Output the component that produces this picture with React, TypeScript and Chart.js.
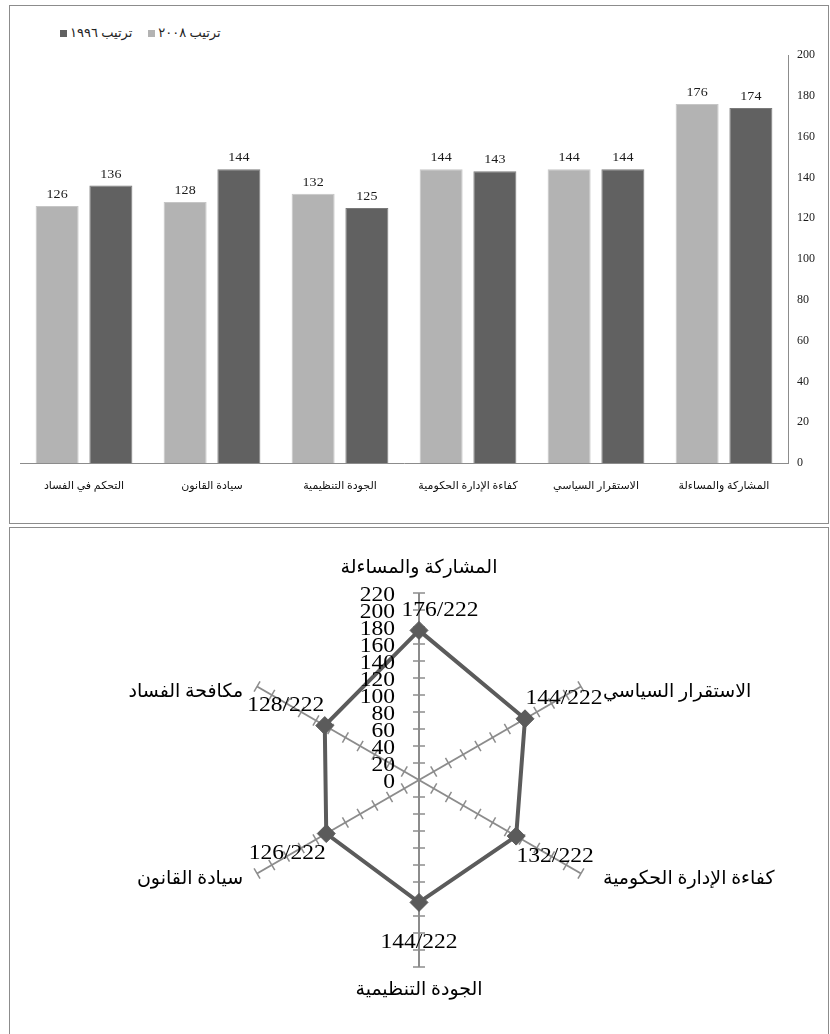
import React, { useEffect, useRef } from "react";
import { Chart, registerables } from "chart.js";

Chart.register(...registerables);

const FONT = "'Liberation Serif', 'DejaVu Sans', serif";

// ---- Bar chart: rank per governance indicator (left to right as drawn) ----
const barCategories = [
  "التحكم في الفساد",
  "سيادة القانون",
  "الجودة التنظيمية",
  "كفاءة الإدارة الحكومية",
  "الاستقرار السياسي",
  "المشاركة والمساءلة",
];
const rank2008 = [126, 128, 132, 144, 144, 176];
const rank1996 = [136, 144, 125, 143, 144, 174];
const seriesNames = ["ترتيب ٢٠٠٨", "ترتيب ١٩٩٦"];
const seriesColors = ["#b3b3b3", "#616161"];
const seriesEdges = ["#c6c6c6", "#7a7a7a"];
const barTickValues = [0, 20, 40, 60, 80, 100, 120, 140, 160, 180, 200];

// ---- Radar chart: 2008 rank out of 222 countries ----
const radarAxes = [
  "المشاركة والمساءلة",
  "الاستقرار السياسي",
  "كفاءة الإدارة الحكومية",
  "الجودة التنظيمية",
  "سيادة القانون",
  "مكافحة الفساد",
];
const radarValues = [176, 144, 132, 144, 126, 128];
const radarTotal = 222;
const radarTickValues = [0, 20, 40, 60, 80, 100, 120, 140, 160, 180, 200, 220];

// draws text slightly widened, like the serif numerals of the original sheet
function wideText(ctx: CanvasRenderingContext2D, text: string, x: number, y: number, sx: number) {
  ctx.save();
  ctx.translate(x, y);
  ctx.scale(sx, 1);
  ctx.fillText(text, 0, 0);
  ctx.restore();
}

const barValueLabels = {
  id: "barValueLabels",
  afterDatasetsDraw(chart: any) {
    const ctx = chart.ctx;
    ctx.save();
    ctx.font = `13px ${FONT}`;
    ctx.fillStyle = "#1a1a1a";
    ctx.textAlign = "center";
    ctx.textBaseline = "alphabetic";
    chart.data.datasets.forEach((ds: any, di: number) => {
      chart.getDatasetMeta(di).data.forEach((el: any, i: number) => {
        wideText(ctx, String(ds.data[i]), el.x, el.y - 8, 1.08);
      });
    });
    ctx.restore();
  },
};

const radarDecor = {
  id: "radarDecor",
  beforeDatasetsDraw(chart: any) {
    const s = chart.scales.r;
    const ctx = chart.ctx;
    const n = chart.data.labels.length;
    ctx.save();
    ctx.strokeStyle = "#8c8c8c";
    ctx.lineWidth = 1.5;
    for (const v of radarTickValues) {
      if (v === 0) continue;
      const d = s.getDistanceFromCenterForValue(v);
      for (let i = 0; i < n; i++) {
        const p = s.getPointPosition(i, d);
        const a = s.getIndexAngle(i) - Math.PI / 2;
        const nx = -Math.sin(a);
        const ny = Math.cos(a);
        ctx.beginPath();
        ctx.moveTo(p.x - nx * 6, p.y - ny * 6);
        ctx.lineTo(p.x + nx * 6, p.y + ny * 6);
        ctx.stroke();
      }
    }
    ctx.restore();
  },
  afterDatasetsDraw(chart: any) {
    const s = chart.scales.r;
    const ctx = chart.ctx;
    ctx.save();
    ctx.fillStyle = "#000";

    // value scale labels, stacked left of the vertical spoke
    ctx.font = `21px ${FONT}`;
    ctx.textAlign = "right";
    ctx.textBaseline = "middle";
    for (const v of radarTickValues) {
      const d = s.getDistanceFromCenterForValue(v);
      wideText(ctx, String(v), s.xCenter - 24, s.yCenter - d + 2, 1.12);
    }

    // axis names beyond the spoke ends
    ctx.font = `19px ${FONT}`;
    radarAxes.forEach((label, i) => {
      const end = s.getPointPosition(i, s.drawingArea);
      const a = s.getIndexAngle(i) - Math.PI / 2;
      const cx = Math.cos(a);
      const sy = Math.sin(a);
      ctx.textBaseline = "middle";
      if (Math.abs(cx) < 0.01) {
        ctx.textAlign = "center";
        ctx.fillText(label, end.x, end.y + (sy < 0 ? -25 : 23));
      } else {
        ctx.textAlign = cx > 0 ? "left" : "right";
        ctx.fillText(label, end.x + (cx > 0 ? 22 : -14), end.y + 6);
      }
    });

    // "rank/total" labels next to each point
    ctx.font = `21px ${FONT}`;
    ctx.textAlign = "center";
    ctx.textBaseline = "middle";
    const meta = chart.getDatasetMeta(0);
    meta.data.forEach((pt: any, i: number) => {
      const a = s.getIndexAngle(i) - Math.PI / 2;
      const ux = Math.cos(a);
      const uy = Math.sin(a);
      let lx = pt.x + ux * 45;
      let ly = pt.y + uy * 40;
      if (Math.abs(ux) < 0.01 && uy < 0) {
        lx = pt.x + 21;
        ly = pt.y - 20;
      }
      wideText(ctx, `${radarValues[i]}/${radarTotal}`, lx, ly, 1.12);
    });
    ctx.restore();
  },
};

function BarChart() {
  const ref = useRef<HTMLCanvasElement>(null);
  useEffect(() => {
    const chart = new Chart(ref.current!, {
      type: "bar",
      data: {
        labels: barCategories,
        datasets: [
          {
            label: seriesNames[0],
            data: rank2008,
            backgroundColor: seriesColors[0],
            borderColor: seriesEdges[0],
            borderWidth: 1,
            barPercentage: 0.8,
            categoryPercentage: 0.84,
          },
          {
            label: seriesNames[1],
            data: rank1996,
            backgroundColor: seriesColors[1],
            borderColor: seriesEdges[1],
            borderWidth: 1,
            barPercentage: 0.8,
            categoryPercentage: 0.84,
          },
        ],
      },
      options: {
        animation: false,
        responsive: true,
        maintainAspectRatio: false,
        layout: { padding: { left: 10, top: 49, right: 0, bottom: 0 } },
        plugins: { legend: { display: false }, tooltip: { enabled: false } },
        scales: {
          x: {
            grid: { display: false, drawTicks: false },
            border: { display: true, color: "#8c8c8c", width: 1 },
            ticks: {
              font: { family: FONT, size: 11 },
              color: "#111",
              padding: 17,
              maxRotation: 0,
              autoSkip: false,
            },
            afterFit: (sc: any) => {
              sc.height = 59;
            },
          },
          y: {
            position: "right",
            min: 0,
            max: barTickValues[barTickValues.length - 1],
            grid: { display: false, drawTicks: false },
            border: { display: true, color: "#8c8c8c", width: 1 },
            afterBuildTicks: (sc: any) => {
              sc.ticks = barTickValues.map((v) => ({ value: v }));
            },
            ticks: {
              font: { family: FONT, size: 12 },
              color: "#1a1a1a",
              padding: 9,
            },
            afterFit: (sc: any) => {
              sc.width = 40;
            },
          },
        },
      },
      plugins: [barValueLabels],
    } as any);
    return () => chart.destroy();
  }, []);
  return <canvas ref={ref} />;
}

function RadarChart() {
  const ref = useRef<HTMLCanvasElement>(null);
  useEffect(() => {
    const chart = new Chart(ref.current!, {
      type: "radar",
      data: {
        labels: radarAxes,
        datasets: [
          {
            label: seriesNames[0],
            data: radarValues,
            borderColor: "#5b5b5b",
            borderWidth: 4,
            fill: false,
            pointStyle: "rectRot",
            pointRadius: 9,
            pointBackgroundColor: "#5b5b5b",
            pointBorderColor: "#5b5b5b",
            pointBorderWidth: 1,
          },
        ],
      },
      options: {
        animation: false,
        responsive: true,
        maintainAspectRatio: false,
        layout: { padding: { left: 222, right: 222, top: 65, bottom: 67 } },
        plugins: { legend: { display: false }, tooltip: { enabled: false } },
        scales: {
          r: {
            min: radarTickValues[0],
            max: radarTickValues[radarTickValues.length - 1],
            ticks: { display: false, stepSize: 20 },
            grid: { display: false },
            angleLines: { display: true, color: "#8c8c8c", lineWidth: 2 },
            pointLabels: { display: false },
          },
        },
      },
      plugins: [radarDecor],
    } as any);
    return () => chart.destroy();
  }, []);
  return <canvas ref={ref} />;
}

export default function App() {
  const frame: React.CSSProperties = {
    position: "absolute",
    boxSizing: "border-box",
    border: "1px solid #8c8c8c",
    background: "#fff",
  };
  const swatch = (c: string): React.CSSProperties => ({
    display: "inline-block",
    width: 7,
    height: 7,
    background: c,
    marginRight: 3,
  });
  return (
    <div
      style={{
        position: "absolute",
        left: 0,
        top: 0,
        width: 830,
        height: 1034,
        overflow: "hidden",
        background: "#fff",
        fontFamily: FONT,
      }}
    >
      <div style={{ ...frame, left: 9, top: 5, width: 820, height: 519 }} />
      <div style={{ ...frame, left: 9, top: 527, width: 820, height: 530 }} />

      <div
        style={{
          position: "absolute",
          left: 60,
          top: 25,
          display: "flex",
          alignItems: "center",
          fontSize: 13,
          color: "#222",
          whiteSpace: "nowrap",
        }}
      >
        {[1, 0].map((k) => (
          <span key={k} style={{ display: "flex", alignItems: "center", marginRight: 16 }}>
            <span style={swatch(seriesColors[k])} />
            <span>{seriesNames[k]}</span>
          </span>
        ))}
      </div>

      <div style={{ position: "absolute", left: 10, top: 6, width: 818, height: 516 }}>
        <BarChart />
      </div>
      <div style={{ position: "absolute", left: 10, top: 528, width: 818, height: 506 }}>
        <RadarChart />
      </div>
    </div>
  );
}
